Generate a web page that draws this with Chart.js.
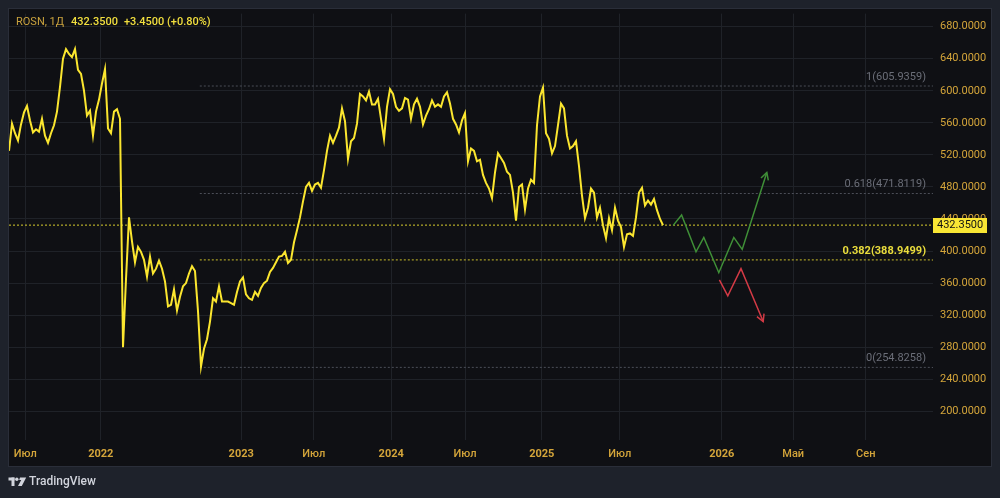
<!DOCTYPE html>
<html>
<head>
<meta charset="utf-8">
<script src="https://cdn.jsdelivr.net/npm/chart.js@4.4.1/dist/chart.umd.min.js"></script>
<style>
  html, body { margin: 0; padding: 0; background: #1e222b; }
  #wrap { width: 1000px; height: 498px; }
</style>
</head>
<body>
<div id="wrap"><canvas id="c" width="1000" height="498"></canvas></div>
<script>
// ---------------- DATA ----------------
const ticker = "ROSN, 1Д";
const lastPrice = 432.35;
const changeText = "+3.4500 (+0.80%)";

// daily closes sampled every 5 trading bars, starting at bar 0
const barStep = 5;
const closes = [
  525,559,547,538,558,573,581,563,548,552,549,565,544,535,547,557,574,605,640,652,
  646,642,652,626,621,600,569,575,544,574,589,609,627,553,547,574,577,565,280,365,
  442,412,386,405,399,389,368,393,372,378,388,378,362,331,333,352,326,343,356,360,
  372,381,375,325,256,278,290,312,341,337,356,337,337,337,335,333,349,362,367,346,
  341,339,349,344,354,360,363,374,379,386,393,394,399,385,389,411,426,442,462,480,
  485,475,483,485,479,501,525,544,535,544,554,578,562,515,537,541,559,596,593,588,
  599,583,583,590,565,540,580,602,596,580,575,578,591,589,565,583,590,580,558,569,
  577,588,580,583,580,593,598,584,565,558,548,563,572,512,528,525,512,514,495,485,
  478,466,498,522,516,510,499,495,473,438,480,483,452,478,489,485,557,593,604,547,
  540,522,531,557,584,578,544,528,531,537,506,469,441,454,478,473,442,454,432,416,
  441,426,454,438,430,405,421,422,419,442,473,479,457,463,458,465,451,440,432.35
];

// scenario paths (bar index, price)
const bullBars = [1107, 1121, 1145, 1158, 1183, 1208, 1222, 1263];
const bullVals = [432, 445, 399, 417, 373, 417, 402, 498];
const bearBars = [1184, 1198, 1220, 1257];
const bearVals = [364, 344, 378, 312];

// Fibonacci retracement levels
const fibRatios = ["1", "0.618", "0.382", "0"];
const fibLevels = [605.9359, 471.8119, 388.9499, 254.8258];
const fibStartBar = 318;

// axes
const xTickBars = [27, 153, 387, 508, 637, 760, 888, 1018, 1188, 1307, 1428];
const xTickLabels = ["Июл", "2022", "2023", "Июл", "2024", "Июл", "2025", "Июл", "2026", "Май", "Сен"];
const yTicks = [200, 240, 280, 320, 360, 400, 440, 480, 520, 560, 600, 640, 680];
const xMax = 1540;
const yMin = 164.2, yMax = 696.3;

// ---------------- BUILD ----------------
const pricePts = closes.map((v, i) => ({ x: i * barStep, y: v }));
const bullPts = bullBars.map((b, i) => ({ x: b, y: bullVals[i] }));
const bearPts = bearBars.map((b, i) => ({ x: b, y: bearVals[i] }));

const FONT = "Roboto, 'Liberation Sans', sans-serif";
const GOLD = "#d4a53a";
const GRID = "#1f2228";

const fibDatasets = fibLevels.map((lv, i) => ({
  id: "fib" + i,
  data: [{ x: fibStartBar, y: lv }, { x: xMax, y: lv }],
  borderColor: fibRatios[i] === "0.382" ? "#c9bd2a" : "#4b4e57",
  borderWidth: 1,
  borderDash: [2, 2],
  pointRadius: 0,
  order: 5
}));

const bgPlugin = {
  id: "bg",
  beforeDraw(chart) {
    const c = chart.ctx;
    c.save();
    c.fillStyle = "#1e222b";
    c.fillRect(0, 0, chart.width, chart.height);
    c.fillStyle = "#0f1014";
    c.fillRect(9, 9, 982, 457);
    c.strokeStyle = "#2a2e39";
    c.lineWidth = 1;
    c.strokeRect(8.5, 8.5, 983, 458);
    c.restore();
  }
};

function arrowHead(c, p1, p2, color) {
  const ang = Math.atan2(p2.y - p1.y, p2.x - p1.x);
  const L = 8, a = 0.5;
  c.save();
  c.strokeStyle = color;
  c.lineWidth = 1.5;
  c.beginPath();
  c.moveTo(p2.x - L * Math.cos(ang - a), p2.y - L * Math.sin(ang - a));
  c.lineTo(p2.x, p2.y);
  c.lineTo(p2.x - L * Math.cos(ang + a), p2.y - L * Math.sin(ang + a));
  c.stroke();
  c.restore();
}

const overlayPlugin = {
  id: "overlay",
  afterDatasetsDraw(chart) {
    const c = chart.ctx;
    const ys = chart.scales.y;
    chart.data.datasets.forEach((ds, di) => {
      if (ds.id === "bull" || ds.id === "bear") {
        const pts = chart.getDatasetMeta(di).data;
        const n = pts.length;
        arrowHead(c, pts[n - 2], pts[n - 1], ds.borderColor);
      }
    });
    c.save();
    c.textAlign = "right";
    c.textBaseline = "middle";
    fibLevels.forEach((lv, i) => {
      const py = ys.getPixelForValue(lv);
      const hi = fibRatios[i] === "0.382";
      c.font = (hi ? "bold " : "") + "11px " + FONT;
      c.fillStyle = hi ? "#e9dc3c" : "#6b6e78";
      c.fillText(fibRatios[i] + "(" + lv.toFixed(4) + ")", 926, py - 9);
    });
    c.restore();
  },
  afterDraw(chart) {
    const c = chart.ctx;
    const ys = chart.scales.y;
    const area = chart.chartArea;
    const py = ys.getPixelForValue(lastPrice);
    c.save();
    c.fillStyle = "#f9e634";
    c.fillRect(area.right, Math.round(py) - 7, 54, 15);
    c.fillStyle = "#131313";
    c.font = "11px " + FONT;
    c.textBaseline = "middle";
    c.textAlign = "left";
    c.fillText(lastPrice.toFixed(4), area.right + 4, Math.round(py) + 0.5);
    // title
    let tx = 16;
    c.font = "11px " + FONT;
    c.fillStyle = "#c9a23e";
    c.fillText(ticker, tx, 22);
    tx += c.measureText(ticker).width + 7;
    c.font = "500 11px " + FONT;
    c.fillStyle = "#f2df3e";
    const ps = lastPrice.toFixed(4);
    c.fillText(ps, tx, 22);
    tx += c.measureText(ps).width + 6;
    c.fillText(changeText, tx, 22);
    // TradingView logo
    c.fillStyle = "#d1d4dc";
    c.fillRect(8.5, 477.5, 6, 3);
    c.fillRect(11.5, 477.5, 3, 8.5);
    c.beginPath();
    c.arc(16.8, 479.2, 1.7, 0, Math.PI * 2);
    c.fill();
    c.beginPath();
    c.moveTo(20, 477.5); c.lineTo(26.2, 477.5); c.lineTo(21.8, 486); c.lineTo(18, 486);
    c.lineTo(21.2, 480); c.lineTo(19.2, 480);
    c.closePath();
    c.fill();
    c.font = "500 12px " + FONT;
    c.fillText("TradingView", 29, 482);
    c.restore();
  }
};

new Chart(document.getElementById("c"), {
  type: "line",
  data: {
    datasets: [
      { id: "price", data: pricePts, borderColor: "#fbe62f", borderWidth: 2, pointRadius: 0, tension: 0, order: 1 },
      { id: "bull", data: bullPts, borderColor: "#3f8f37", borderWidth: 1.5, pointRadius: 0, tension: 0, order: 2 },
      { id: "bear", data: bearPts, borderColor: "#d23a45", borderWidth: 1.5, pointRadius: 0, tension: 0, order: 2 },
      { id: "last", data: [{ x: 0, y: lastPrice }, { x: xMax, y: lastPrice }], borderColor: "#d9cd2e",
        borderWidth: 1, borderDash: [2, 2], pointRadius: 0, order: 4 },
      ...fibDatasets
    ]
  },
  options: {
    responsive: false,
    animation: false,
    events: [],
    layout: { padding: { left: 9, top: 9, right: 9, bottom: 32 } },
    plugins: { legend: { display: false }, tooltip: { enabled: false } },
    scales: {
      x: {
        type: "linear", min: 0, max: xMax,
        grid: { color: GRID, drawTicks: false },
        border: { display: false },
        afterBuildTicks: s => { s.ticks = xTickBars.map(v => ({ value: v })); },
        afterFit: s => { s.height = 26; },
        ticks: {
          autoSkip: false, maxRotation: 0, padding: 8, color: GOLD,
          callback: (v, i) => xTickLabels[i],
          font: ctx => ({ family: FONT, size: 11, weight: /^\d+$/.test(xTickLabels[ctx.index] || "") ? "bold" : "500" })
        }
      },
      y: {
        type: "linear", position: "right", min: yMin, max: yMax,
        grid: { color: GRID, drawTicks: false },
        border: { display: false },
        afterBuildTicks: s => { s.ticks = yTicks.map(v => ({ value: v })); },
        afterFit: s => { s.width = 58; },
        ticks: {
          padding: 7, color: GOLD, font: { family: FONT, size: 11 },
          callback: v => Number(v).toFixed(4)
        }
      }
    }
  },
  plugins: [bgPlugin, overlayPlugin]
});
</script>
</body>
</html>
